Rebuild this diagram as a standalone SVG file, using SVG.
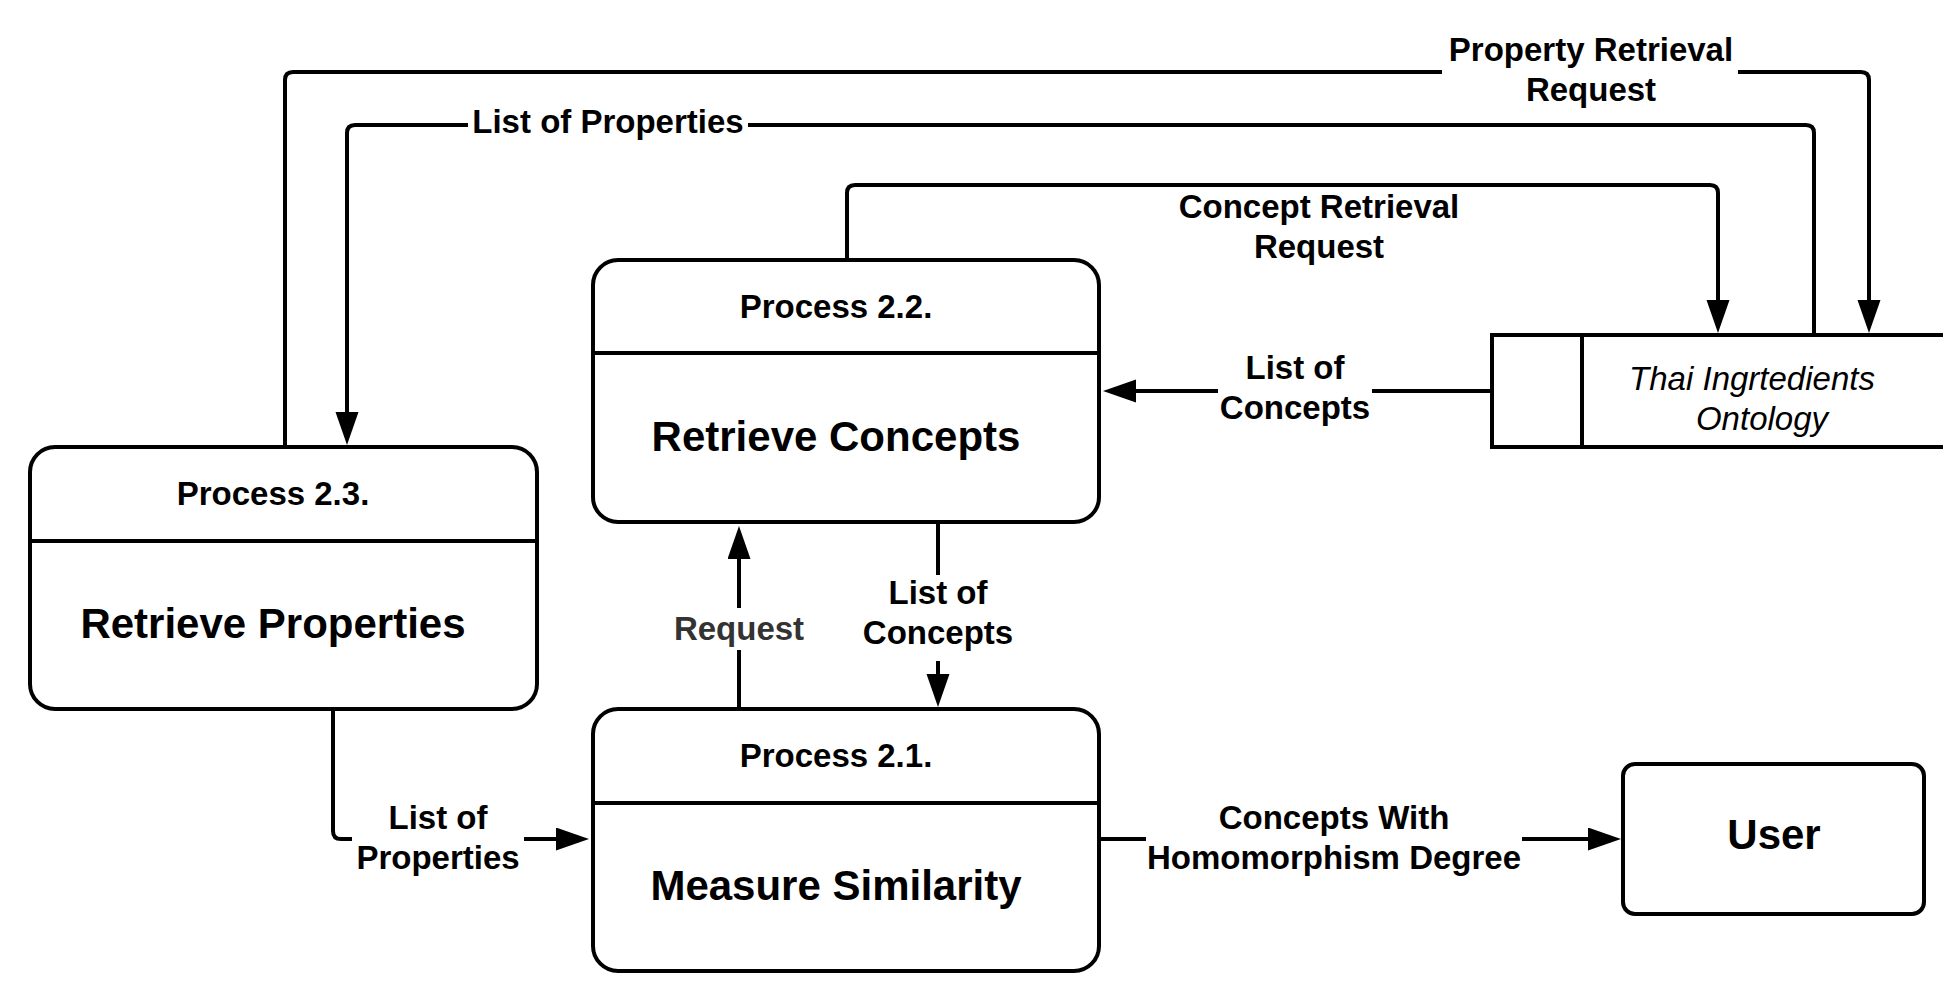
<svg xmlns="http://www.w3.org/2000/svg" width="1958" height="987" viewBox="0 0 1958 987">
<defs>
<style>
.box{fill:#fff;stroke:#000;stroke-width:4}
.div{stroke:#000;stroke-width:4;fill:none}
.conn{fill:none;stroke:#000;stroke-width:4}
.bg{fill:#fff;stroke:none}
.lbl{font-family:"Liberation Sans",Arial,sans-serif;font-weight:bold;font-size:33px;fill:#000;text-anchor:middle}
.big{font-family:"Liberation Sans",Arial,sans-serif;font-weight:bold;font-size:42px;fill:#000;text-anchor:middle}
.ital{font-family:"Liberation Sans",Arial,sans-serif;font-style:italic;font-size:33px;fill:#000;text-anchor:middle}
.gray{fill:#333}
</style>
<marker id="arr" markerUnits="userSpaceOnUse" markerWidth="36" markerHeight="26" refX="23" refY="11.5" orient="auto">
<path d="M0,0 L33,11.5 L0,23 Z" fill="#000"/>
</marker>
</defs>
<rect width="1958" height="987" fill="#fff"/>

<g id="connectors">
<path class="conn" d="M285,447 V80 Q285,72 293,72 H1861 Q1869,72 1869,80 V323" marker-end="url(#arr)"/>
<path class="conn" d="M1814,335 V133 Q1814,125 1806,125 H355 Q347,125 347,133 V435" marker-end="url(#arr)"/>
<path class="conn" d="M847,260 V193 Q847,185 855,185 H1710 Q1718,185 1718,193 V323" marker-end="url(#arr)"/>
<path class="conn" d="M1492,391 H1113" marker-end="url(#arr)"/>
<path class="conn" d="M739,709 V536" marker-end="url(#arr)"/>
<path class="conn" d="M938,522 V697" marker-end="url(#arr)"/>
<path class="conn" d="M333,709 V831 Q333,839 341,839 H579" marker-end="url(#arr)"/>
<path class="conn" d="M1099,839 H1611" marker-end="url(#arr)"/>

<rect class="bg" x="1442" y="60" width="296" height="24"/>
<text class="lbl" x="1591" y="61">Property Retrieval</text>
<text class="lbl" x="1591" y="101">Request</text>

<rect class="bg" x="468" y="113" width="280" height="24"/>
<text class="lbl" x="608" y="133">List of Properties</text>

<text class="lbl" x="1319" y="218">Concept Retrieval</text>
<text class="lbl" x="1319" y="258">Request</text>

<rect class="bg" x="1218" y="379" width="154" height="24"/>
<text class="lbl" x="1295" y="379">List of</text>
<text class="lbl" x="1295" y="419">Concepts</text>

<rect class="bg" x="725" y="608" width="28" height="42"/>
<text class="lbl gray" x="739" y="640">Request</text>

<rect class="bg" x="924" y="575" width="28" height="86"/>
<text class="lbl" x="938" y="604">List of</text>
<text class="lbl" x="938" y="644">Concepts</text>

<rect class="bg" x="352" y="827" width="172" height="24"/>
<text class="lbl" x="438" y="829">List of</text>
<text class="lbl" x="438" y="869">Properties</text>

<rect class="bg" x="1146" y="827" width="376" height="24"/>
<text class="lbl" x="1334" y="829">Concepts With</text>
<text class="lbl" x="1334" y="869">Homomorphism Degree</text>
</g>

<g id="process-2-2">
<rect class="box" x="593" y="260" width="506" height="262" rx="25" ry="25"/>
<line class="div" x1="593" y1="353" x2="1099" y2="353"/>
<text class="lbl" x="836" y="318">Process 2.2.</text>
<text class="big" x="836" y="451">Retrieve Concepts</text>
</g>

<g id="process-2-3">
<rect class="box" x="30" y="447" width="507" height="262" rx="25" ry="25"/>
<line class="div" x1="30" y1="541" x2="537" y2="541"/>
<text class="lbl" x="273" y="505">Process 2.3.</text>
<text class="big" x="273" y="638">Retrieve Properties</text>
</g>

<g id="process-2-1">
<rect class="box" x="593" y="709" width="506" height="262" rx="25" ry="25"/>
<line class="div" x1="593" y1="803" x2="1099" y2="803"/>
<text class="lbl" x="836" y="767">Process 2.1.</text>
<text class="big" x="836" y="900">Measure Similarity</text>
</g>

<g id="user">
<rect class="box" x="1623" y="764" width="301" height="150" rx="12" ry="12"/>
<text class="big" x="1774" y="849">User</text>
</g>

<g id="ontology">
<path class="div" d="M1943,335 H1492 V447 H1943"/>
<line class="div" x1="1582" y1="335" x2="1582" y2="447"/>
<text class="ital" x="1752" y="390">Thai Ingrtedients</text>
<text class="ital" x="1762" y="430">Ontology</text>
</g>
</svg>
